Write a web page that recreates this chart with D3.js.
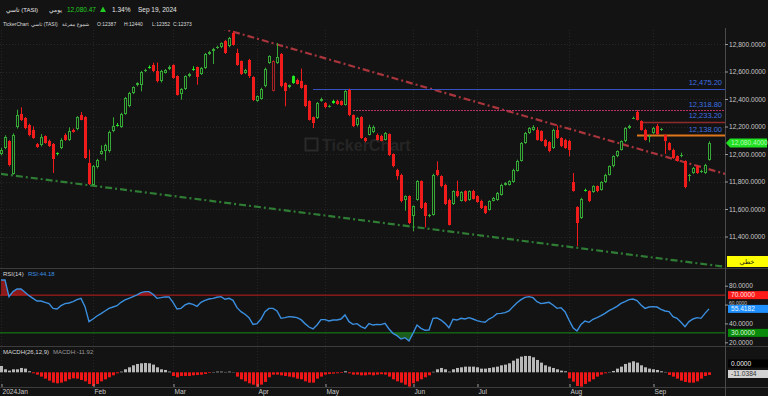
<!DOCTYPE html>
<html>
<head>
<meta charset="utf-8">
<script src="https://cdn.jsdelivr.net/npm/d3@7"></script>
<style>
  body { margin: 0; background: #131313; }
  svg { display: block; font-family: "Liberation Sans", "DejaVu Sans", sans-serif; }
</style>
</head>
<body>
<svg id="chart" width="768" height="396"></svg>
<script>
// month ticks (candle index of first trading day of each month)
const monthLabels = ["2024Jan", "Feb", "Mar", "Apr", "May", "Jun", "Jul", "Aug", "Sep"];
const monthStart = [0, 23, 43, 64, 81, 103, 119, 142, 163];

// daily candles, TASI Jan 2 - Sep 19 2024
const opens = [12000,12044,12092,11857,12194,12291,12262,12213,12177,12073,12063,12128,12097,12073,12005,12044,12141,12102,12177,12179,
  12281,12267,11935,11777,11903,12000,12024,12019,12165,12213,12199,12291,12347,12444,12499,12504,12601,12632,12645,12601,
  12528,12591,12616,12645,12565,12436,12473,12565,12615,12630,12582,12625,12727,12747,12771,12776,12824,12783,12880,12734,
  12674,12589,12686,12558,12388,12402,12492,12662,12461,12662,12727,12516,12485,12565,12541,12533,12499,12383,12267,12262,
  12388,12371,12345,12388,12388,12383,12359,12468,12281,12208,12267,12116,12141,12160,12141,12130,12104,12145,12000,11886,
  11850,11668,11692,11547,11668,11801,11643,11550,11559,11886,11838,11777,11668,11636,11729,11661,11729,11668,11733,11692,
  11661,11619,11595,11661,11668,11704,11777,11777,11796,11879,11952,12080,12153,12175,12177,12165,12104,12087,12044,12177,
  12116,12104,12097,11796,11612,11535,11740,11729,11724,11765,11741,11796,11850,11910,11983,12032,12092,12189,12260,12305,
  12238,12177,12126,12153,12201,12175,12136,12080,12032,11983,11983,11947,11840,11862,11910,11869,11862,11959];
const highs = [12045,12136,12100,12150,12322,12339,12270,12220,12201,12080,12145,12135,12105,12080,12012,12115,12150,12194,12185,12275,
  12305,12275,12032,11920,11965,12063,12075,12170,12267,12225,12300,12415,12452,12492,12522,12604,12620,12645,12664,12666,
  12612,12618,12645,12652,12572,12480,12572,12590,12638,12636,12632,12735,12750,12772,12788,12812,12830,12852,12892,12766,
  12680,12620,12692,12565,12426,12482,12628,12718,12682,12807,12735,12522,12505,12572,12548,12621,12505,12390,12272,12378,
  12410,12378,12358,12395,12395,12390,12468,12475,12288,12270,12275,12122,12213,12208,12150,12140,12160,12150,12005,11893,
  11857,11700,11700,11626,11810,11808,11650,11565,11857,11947,11845,11784,11675,11736,11806,11730,11736,11736,11740,11700,
  11668,11626,11663,11688,11724,11784,11796,11810,11893,11959,12087,12160,12196,12210,12195,12172,12111,12094,12184,12208,
  12123,12111,12104,11862,11620,11682,11748,11736,11772,11772,11803,11857,11917,11990,12026,12099,12196,12213,12272,12319,
  12245,12184,12138,12196,12220,12190,12143,12087,12039,11990,12010,11954,11855,11905,11917,11886,11929,12093];
const lows = [11990,12035,11910,11850,12185,12240,12180,12128,12110,12044,12055,12075,12050,11862,11990,12035,12095,12095,12155,12172,
  12245,11965,11775,11770,11895,11995,11952,12010,12158,12200,12190,12285,12340,12436,12492,12456,12596,12620,12595,12520,
  12520,12585,12610,12548,12425,12395,12466,12558,12605,12504,12575,12618,12720,12655,12765,12770,12728,12776,12788,12642,
  12575,12582,12553,12385,12380,12395,12485,12655,12455,12655,12485,12347,12478,12510,12505,12475,12340,12243,12189,12255,
  12380,12332,12338,12365,12358,12352,12352,12275,12195,12200,12110,12085,12135,12152,12098,12092,12098,11985,11903,11813,
  11648,11588,11490,11438,11660,11600,11467,11540,11552,11838,11758,11630,11480,11630,11685,11655,11650,11660,11668,11645,
  11600,11563,11588,11655,11660,11697,11770,11770,11790,11872,11945,12073,12146,12168,12098,12090,12048,12012,12037,12110,
  12050,12037,11983,11726,11329,11528,11727,11650,11718,11722,11734,11789,11843,11903,11976,12025,12085,12182,12255,12243,
  12170,12097,12085,12146,12138,12168,12000,12025,11964,11945,11976,11750,11801,11855,11855,11862,11855,11952];
const closes = [12032,12121,11922,12141,12281,12250,12189,12136,12116,12053,12121,12080,12056,11966,11998,12104,12100,12170,12160,12267,
  12250,11971,11782,11910,11959,12024,12068,12160,12201,12208,12291,12407,12444,12485,12516,12596,12613,12628,12601,12528,
  12606,12611,12630,12553,12431,12473,12565,12582,12611,12558,12625,12727,12742,12764,12781,12805,12734,12844,12795,12650,
  12582,12613,12565,12395,12419,12475,12621,12710,12674,12703,12492,12461,12499,12516,12512,12480,12347,12250,12225,12371,
  12402,12339,12349,12371,12364,12359,12461,12281,12201,12262,12116,12092,12194,12200,12104,12098,12153,11990,11910,11838,
  11656,11692,11498,11619,11801,11607,11547,11555,11850,11845,11765,11636,11486,11729,11692,11724,11656,11729,11675,11651,
  11607,11571,11656,11680,11716,11777,11789,11801,11886,11952,12080,12153,12189,12199,12104,12097,12056,12019,12177,12116,
  12056,12044,12032,11733,11498,11675,11733,11656,11765,11729,11796,11850,11910,11983,12019,12092,12189,12201,12264,12250,
  12177,12104,12130,12189,12145,12179,12092,12032,11971,11952,11995,11758,11844,11898,11862,11879,11922,12080.47];

// RSI(14)
const rsiValues = [86.1,86.1,68.4,73.7,76.5,76.5,73.0,69.4,66.6,63.8,
  63.8,62.4,61.0,56.0,55.3,58.8,61.0,61.7,63.1,65.2,
  66.6,57.8,41.9,44.7,47.9,50.4,53.2,56.0,57.4,58.8,
  62.4,64.9,66.6,68.4,70.2,72.6,73.7,73.7,70.9,66.6,
  67.3,68.1,68.1,62.4,55.3,56.0,59.6,61.3,60.2,58.1,
  62.4,64.5,65.9,66.6,67.7,68.4,65.6,66.6,64.5,56.7,
  52.5,49.7,46.1,39.0,39.8,44.7,52.5,56.0,56.0,53.2,
  45.4,46.1,47.2,46.8,46.1,44.0,39.8,36.2,34.1,38.3,
  44.0,44.0,42.6,43.6,43.6,44.7,49.0,41.9,39.0,39.8,
  36.6,34.8,39.8,38.3,39.0,38.7,40.1,34.1,29.5,27.0,
  23.5,24.9,21.4,29.5,38.3,34.8,32.7,33.0,45.4,45.8,
  43.6,40.1,35.5,44.4,43.6,45.4,44.7,46.1,44.7,43.0,
  41.9,41.2,44.7,46.8,50.4,50.7,51.4,53.2,57.8,62.0,
  65.2,67.7,68.4,67.3,63.1,61.0,61.7,62.4,59.6,56.0,
  56.7,52.5,43.6,35.5,32.0,39.0,42.6,41.2,44.4,46.1,
  48.2,50.7,53.6,55.7,58.1,61.3,63.1,65.2,65.9,64.2,
  59.6,56.0,57.4,57.8,57.4,55.0,53.2,52.5,47.2,45.4,
  41.2,36.6,41.9,44.7,46.1,45.4,50.7,55.42];

// MACD histogram (26,12,9)
const macdHist = [26.6,12.6,7,12.6,12.6,18.2,15.4,4.2,-4.2,-9.8,
  -18.2,-26.6,-35,-43.4,-46.2,-43.4,-37.8,-29.4,-25.2,-26.6,
  -32.2,-37.8,-49,-57.4,-49,-37.8,-29.4,-21,-12.6,-4.2,
  2.8,12.6,21,29.4,35,37.8,39.2,37.8,32.2,21,
  12.6,9.8,2.8,-15.4,-21,-15.4,-15.4,-15.4,-12.6,-11.2,
  -9.8,-7,-2.8,1.4,2.8,2.8,1.4,2.8,1,-18.2,
  -29.4,-37.8,-46.2,-51.8,-60.2,-51.8,-40.6,-21,-9.8,-9.8,
  -12.6,-15.4,-18.2,-21,-26.6,-29.4,-37.8,-43.4,-43.4,-26.6,
  -18.2,-9.8,-7,-5.6,-4.2,-2.8,4.2,-4.2,-9.8,-9.8,
  -12.6,-12.6,-9.8,-12.6,-9.8,-8,-9.8,-18.2,-29.4,-37.8,
  -43.4,-51.8,-60.2,-46.2,-37.8,-29.4,-21,-12.6,2,12.6,
  18.2,12.6,2.8,12.6,18.2,21,23.8,23.8,23.8,21,
  15.4,15.4,18.2,21,23.8,29.4,32.2,37.8,49,57.4,
  65.8,68.6,68.6,63,51.8,40.6,29.4,23.8,18.2,12.6,
  7,4.2,-25.2,-39.2,-57.4,-60.2,-49,-39.2,-29.4,-18.2,
  -9.8,-4.2,1.4,5.6,15.4,23.8,35,40.6,46.2,40.6,
  29.4,21,15.4,12.6,9.8,4.2,1.4,-11.2,-18.2,-26.6,
  -35,-40.6,-43.4,-43.4,-37.8,-26.6,-15.4,-11.04];

const priceTicks = [11400, 11600, 11800, 12000, 12200, 12400, 12600, 12800];
const rsiTicks = [20, 40, 60, 80];

// horizontal levels and where they start (candle index)
const levelPrices = [12475.20, 12318.80, 12233.20, 12138.00];
const levelStart = [78, 88, 160, 159];

// trend lines as [index, price] anchors
const resistanceLine = [[40, 13041], [182, 11847]];
const supportLine = [[0, 11855], [182, 11176]];

const W = 768, H = 396, plotRight = 725;
const mainTop = 30, mainBottom = 268, rsiBottom = 346, macdBottom = 387;

const svg = d3.select('#chart');
svg.append('rect').attr('width', W).attr('height', H).attr('fill', '#131313');

const x = d3.scaleLinear().domain([-0.25, 181]).range([0, plotRight]);
const y = d3.scaleLinear().domain([11400, 12800]).range([236.5, 44]);
const yRsi = d3.scaleLinear().domain([20, 80]).range([342.3, 285.7]);
const yMacd = d3.scaleLinear().domain([0, 60]).range([372.3, 358]);

const defs = svg.append('defs');
defs.append('clipPath').attr('id', 'clipMain')
  .append('rect').attr('x', 0).attr('y', mainTop).attr('width', plotRight).attr('height', mainBottom - mainTop);

// faint grid
const grid = svg.append('g').attr('stroke', '#262626').attr('stroke-dasharray', '1,2');
grid.selectAll('.hg').data(priceTicks).enter().append('line')
  .attr('x1', 0).attr('x2', plotRight)
  .attr('y1', d => Math.round(y(d)) + 0.5).attr('y2', d => Math.round(y(d)) + 0.5);
grid.selectAll('.vg').data(monthStart).enter().append('line')
  .attr('x1', d => x(d) + 0.5).attr('x2', d => x(d) + 0.5)
  .attr('y1', mainTop).attr('y2', macdBottom);

// watermark
const wm = svg.append('g').attr('fill', '#252525');
wm.append('rect').attr('x', 305.5).attr('y', 138.5).attr('width', 12).attr('height', 12)
  .attr('fill', 'none').attr('stroke', '#2a2a2a').attr('stroke-width', 2);
wm.append('text').attr('x', 322).attr('y', 151).attr('font-size', 16).attr('font-weight', 'bold').text('TickerChart');

// separators and right axis line
const sep = svg.append('g').attr('stroke', '#3c3c3c');
[mainBottom, rsiBottom, macdBottom].forEach(v => {
  sep.append('line').attr('x1', 0).attr('x2', W).attr('y1', v + 0.5).attr('y2', v + 0.5);
});
svg.append('line').attr('x1', plotRight + 0.5).attr('x2', plotRight + 0.5)
  .attr('y1', mainTop - 2).attr('y2', H).attr('stroke', '#4a4a4a');

// ---- main panel ----
const main = svg.append('g').attr('clip-path', 'url(#clipMain)');

// trend lines
const lineGen = d3.line().x(d => x(d[0])).y(d => y(d[1]));
main.append('path').attr('d', lineGen(resistanceLine))
  .attr('stroke', '#a8343c').attr('stroke-width', 2.2).attr('fill', 'none')
  .attr('stroke-dasharray', '7,3,2,3');
main.append('path').attr('d', lineGen(supportLine))
  .attr('stroke', '#2f7d34').attr('stroke-width', 2.2).attr('fill', 'none')
  .attr('stroke-dasharray', '7,3,2,3');

// levels
const levelColors = ['#3550c0', '#b8306a', '#8e2a2a', '#e0761c'];
const levelWidths = [1, 1, 1.5, 2];
const levelDash = [null, '2,1', null, null];
levelPrices.forEach((p, k) => {
  main.append('line')
    .attr('x1', x(levelStart[k])).attr('x2', plotRight)
    .attr('y1', Math.round(y(p)) + 0.5).attr('y2', Math.round(y(p)) + 0.5)
    .attr('stroke', levelColors[k]).attr('stroke-width', levelWidths[k])
    .attr('stroke-dasharray', levelDash[k]);
  svg.append('text').attr('x', 722).attr('y', y(p) - 3.5)
    .attr('text-anchor', 'end').attr('font-size', 7.5).attr('fill', '#3d6fe0')
    .text(d3.format(',.2f')(p));
});

// candles (hollow style: colour vs previous close, filled when close < open)
const candles = closes.map((c, i) => ({
  i: i, o: opens[i], h: highs[i], l: lows[i], c: c,
  up: i === 0 ? c >= opens[i] : c >= closes[i - 1]
}));

const cg = main.selectAll('.candle').data(candles).enter().append('g');
cg.each(function (d) {
  const g = d3.select(this);
  const cx = x(d.i);
  const top = Math.round(y(Math.max(d.o, d.c)));
  const bot = Math.max(Math.round(y(Math.min(d.o, d.c))), top + 1);
  const filled = d.c < d.o;
  let col;
  if (d.up) col = filled ? '#22e622' : '#35a835';
  else col = filled ? '#f01c1c' : '#a82424';
  g.append('line').attr('x1', cx + 0.5).attr('x2', cx + 0.5)
    .attr('y1', y(d.h)).attr('y2', top).attr('stroke', col);
  g.append('line').attr('x1', cx + 0.5).attr('x2', cx + 0.5)
    .attr('y1', bot).attr('y2', y(d.l)).attr('stroke', col);
  if (filled || bot - top < 3) {
    g.append('rect').attr('x', cx - 1).attr('y', top).attr('width', 3).attr('height', bot - top)
      .attr('fill', col);
  } else {
    g.append('rect').attr('x', cx - 0.5).attr('y', top + 0.5).attr('width', 2).attr('height', bot - top - 1)
      .attr('fill', '#131313').attr('stroke', col);
  }
});

// price axis
const yAxis = svg.append('g').attr('transform', `translate(${plotRight},0)`)
  .call(d3.axisRight(y).tickValues(priceTicks).tickFormat(d3.format(',.4f')).tickSize(3).tickPadding(1));
yAxis.select('.domain').remove();
yAxis.selectAll('line').attr('stroke', '#9a9a9a');
yAxis.selectAll('text').attr('fill', '#c8c8c8').attr('font-size', 6.6).attr('font-family', null);

// current price tag
const yc = y(closes[closes.length - 1]);
svg.append('path')
  .attr('d', `M${plotRight + 1},${yc} L${plotRight + 5},${yc - 4.5} L767,${yc - 4.5} L767,${yc + 4.5} L${plotRight + 5},${yc + 4.5} Z`)
  .attr('fill', '#22e022');
svg.append('text').attr('x', 731).attr('y', yc + 2.3).attr('font-size', 6.6).attr('fill', '#b8ffb8')
  .text('12,080.4000');

// yellow line-type tag
svg.append('rect').attr('x', 727).attr('y', 256).attr('width', 41).attr('height', 11).attr('fill', '#ffff00');
svg.append('text').attr('x', 747).attr('y', 264).attr('text-anchor', 'middle').attr('font-size', 6.5)
  .attr('fill', '#111').text('خطي');

// ---- RSI panel ----
const rsiG = svg.append('g');
rsiG.append('path').datum(rsiValues)
  .attr('d', d3.area().x((d, i) => x(i)).y0(yRsi(70)).y1(d => yRsi(Math.max(d, 70))))
  .attr('fill', '#8a1a1a');
rsiG.append('path').datum(rsiValues)
  .attr('d', d3.area().x((d, i) => x(i)).y0(yRsi(30)).y1(d => yRsi(Math.min(d, 30))))
  .attr('fill', '#1d5a1d');
rsiG.append('line').attr('x1', 0).attr('x2', plotRight)
  .attr('y1', yRsi(70)).attr('y2', yRsi(70)).attr('stroke', '#c41e1e');
rsiG.append('line').attr('x1', 0).attr('x2', plotRight)
  .attr('y1', yRsi(30)).attr('y2', yRsi(30)).attr('stroke', '#168a16');
rsiG.append('path').datum(rsiValues)
  .attr('d', d3.line().x((d, i) => x(i)).y(d => yRsi(d)))
  .attr('fill', 'none').attr('stroke', '#3b8fe0').attr('stroke-width', 1.4);

const rAxis = svg.append('g').attr('transform', `translate(${plotRight},0)`)
  .call(d3.axisRight(yRsi).tickValues(rsiTicks).tickFormat(d3.format('.4f')).tickSize(3).tickPadding(1));
rAxis.select('.domain').remove();
rAxis.selectAll('line').attr('stroke', '#9a9a9a');
rAxis.selectAll('text').attr('fill', '#c8c8c8').attr('font-size', 6.6).attr('font-family', null);
// the 60 label is squeezed between the 70 tag and the RSI value tag
rAxis.selectAll('.tick').filter(d => d === 60).select('text')
  .attr('font-size', 5).attr('dy', '-0.5');

function tag(yv, bg, fg, label) {
  svg.append('rect').attr('x', 728).attr('y', yv - 4).attr('width', 40).attr('height', 8).attr('fill', bg);
  svg.append('text').attr('x', 731).attr('y', yv + 2.3).attr('font-size', 6.6).attr('fill', fg).text(label);
}
tag(yRsi(70), '#ff1a1a', '#ffe0e0', '70.0000');
tag(yRsi(rsiValues[rsiValues.length - 1]), '#1e90ff', '#e8f4ff', '55.4182');
tag(yRsi(30), '#0a8a0a', '#d8ffd8', '30.0000');

svg.append('text').attr('x', 3).attr('y', 275.5).attr('font-size', 6).attr('fill', '#d8d8d8').text('RSI(14)');
svg.append('text').attr('x', 28).attr('y', 275.5).attr('font-size', 6).attr('fill', '#3b8fe0').text('RSI:44.18');

// ---- MACD panel ----
svg.append('g').selectAll('rect').data(macdHist).enter().append('rect')
  .attr('x', (d, i) => x(i) - 1)
  .attr('width', 3)
  .attr('y', d => yMacd(Math.max(d, 0)))
  .attr('height', d => Math.abs(yMacd(d) - yMacd(0)))
  .attr('fill', d => d >= 0 ? '#b8b8b8' : '#ee1616');

tag(363.5, '#000000', '#f0f0f0', '0.0000');
tag(374, '#d2d2d2', '#333333', '-11.0384');

svg.append('text').attr('x', 3).attr('y', 353.5).attr('font-size', 6).attr('fill', '#d8d8d8').text('MACDH(26,12,9)');
svg.append('text').attr('x', 53).attr('y', 353.5).attr('font-size', 6).attr('fill', '#9a9a9a').text('MACDH:-11.92');

// ---- time axis ----
const xAxis = svg.append('g').attr('transform', `translate(0,${macdBottom})`)
  .call(d3.axisBottom(x).tickValues(monthStart).tickFormat((d, i) => monthLabels[i]).tickSizeInner(-3).tickSizeOuter(0));
xAxis.select('.domain').remove();
xAxis.selectAll('line').attr('stroke', '#9a9a9a').attr('transform', 'translate(0.5,0)');
xAxis.selectAll('text').attr('fill', '#c8c8c8').attr('font-size', 6.6).attr('font-family', null)
  .attr('text-anchor', 'start').attr('x', 1).attr('y', 2.5);

// ---- header ----
const hd = svg.append('g').attr('font-size', 6).attr('fill', '#e6e6e6');
hd.append('text').attr('x', 6).attr('y', 11.5).text('تاسي (TASI)');
hd.append('text').attr('x', 49).attr('y', 11.5).text('يومي');
hd.append('text').attr('x', 67).attr('y', 11.5).attr('font-size', 6.5).attr('fill', '#22cc22').text('12,080.47');
hd.append('path').attr('d', 'M100,12 L103,6.5 L106,12 Z').attr('fill', '#22cc22');
hd.append('text').attr('x', 112).attr('y', 11.5).attr('font-size', 6.5).text('1.34%');
hd.append('text').attr('x', 138).attr('y', 11.5).attr('font-size', 6.5).text('Sep 19, 2024');

const hd2 = svg.append('g').attr('font-size', 5).attr('fill', '#dcdcdc');
hd2.append('text').attr('x', 3).attr('y', 26).text('TickerChart');
hd2.append('text').attr('x', 31).attr('y', 26).text('تاسي (TASI)');
hd2.append('text').attr('x', 62).attr('y', 26).text('شموع مفرغة');
hd2.append('text').attr('x', 97).attr('y', 26).text('O:12387');
hd2.append('text').attr('x', 124).attr('y', 26).text('H:12440');
hd2.append('text').attr('x', 152).attr('y', 26).text('L:12352');
hd2.append('text').attr('x', 173).attr('y', 26).text('C:12373');
</script>
</body>
</html>
